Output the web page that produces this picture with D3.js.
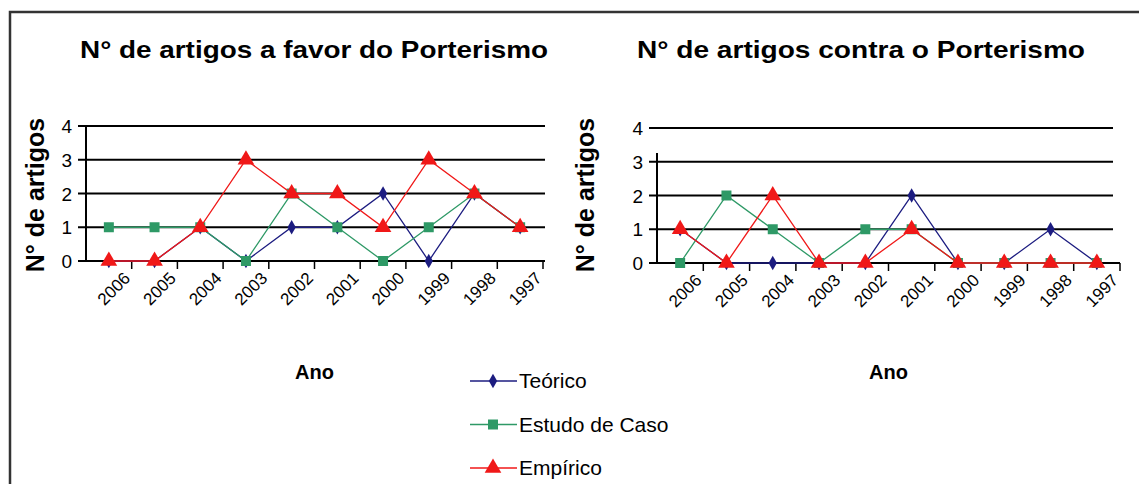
<!DOCTYPE html>
<html>
<head>
<meta charset="utf-8">
<script src="https://cdn.jsdelivr.net/npm/d3@7"></script>
<style>
  body { margin: 0; background: #fff; }
  text { font-family: "Liberation Sans", Arial, sans-serif; }
</style>
</head>
<body>
<script>
// categories (x axis)
var anos = ["2006", "2005", "2004", "2003", "2002", "2001", "2000", "1999", "1998", "1997"];
var yTicks = [0, 1, 2, 3, 4];
var seriesNames = ["Teórico", "Estudo de Caso", "Empírico"];

// a favor
var favorTeorico = [0, 0, 1, 0, 1, 1, 2, 0, 2, 1];
var favorCaso    = [1, 1, 1, 0, 2, 1, 0, 1, 2, 1];
var favorEmpirico = [0, 0, 1, 3, 2, 2, 1, 3, 2, 1];

// contra
var contraTeorico = [1, 0, 0, 0, 0, 2, 0, 0, 1, 0];
var contraCaso    = [0, 2, 1, 0, 1, 1, 0, 0, 0, 0];
var contraEmpirico = [1, 0, 2, 0, 0, 1, 0, 0, 0, 0];

var cores = ["#1c1c80", "#2e9966", "#f01818"];
var simbolos = [d3.symbolDiamond, d3.symbolSquare, d3.symbolTriangle];
var tamanhos = [60, 100, 120];

var w = 1139, h = 484;

var svg = d3.select("body")
    .append("svg")
    .attr("width", w)
    .attr("height", h);

// moldura
svg.append("path")
    .attr("d", "M10," + h + " V12 H" + w)
    .attr("fill", "none")
    .attr("stroke", "#333")
    .attr("stroke-width", 2.5);

function grafico(cfg) {
    var x = d3.scaleBand()
        .domain(anos)
        .range([cfg.x0, cfg.x1]);

    var y = d3.scaleLinear()
        .domain([0, 4])
        .range([cfg.y0, cfg.y4]);

    var g = svg.append("g");

    // titulo
    g.append("text")
        .attr("x", cfg.tx)
        .attr("y", 58)
        .attr("text-anchor", "middle")
        .attr("font-size", 24)
        .attr("font-weight", "bold")
        .attr("textLength", cfg.tLen)
        .attr("lengthAdjust", "spacingAndGlyphs")
        .text(cfg.titulo);

    // linhas de grade
    g.selectAll(".grid")
        .data(yTicks)
        .enter()
        .append("line")
        .attr("x1", cfg.x0 - 8)
        .attr("x2", cfg.gridEnd)
        .attr("y1", function (d) { return y(d); })
        .attr("y2", function (d) { return y(d); })
        .attr("stroke", "#000")
        .attr("stroke-width", 2);

    // eixo y
    g.append("line")
        .attr("x1", cfg.x0).attr("x2", cfg.x0)
        .attr("y1", y(0)).attr("y2", cfg.axisTop)
        .attr("stroke", "#000")
        .attr("stroke-width", 2);

    g.selectAll(".ylab")
        .data(yTicks)
        .enter()
        .append("text")
        .attr("x", cfg.x0 - 14)
        .attr("y", function (d) { return y(d) + 7; })
        .attr("text-anchor", "end")
        .attr("font-size", 19)
        .text(function (d) { return d; });

    // eixo x
    g.append("line")
        .attr("x1", cfg.x0).attr("x2", cfg.x1)
        .attr("y1", y(0)).attr("y2", y(0))
        .attr("stroke", "#000")
        .attr("stroke-width", 2);

    var bordas = anos.map(function (d) { return x(d); }).concat([cfg.x1]);
    g.selectAll(".xtick")
        .data(bordas.slice(1))
        .enter()
        .append("line")
        .attr("x1", function (d) { return d; })
        .attr("x2", function (d) { return d; })
        .attr("y1", y(0))
        .attr("y2", y(0) + 8)
        .attr("stroke", "#000")
        .attr("stroke-width", 1.5);

    g.selectAll(".xlab")
        .data(anos)
        .enter()
        .append("text")
        .attr("transform", function (d) {
            return "translate(" + (x(d) + x.bandwidth() / 2 + 14) + "," + (y(0) + 10) + ") rotate(-45)";
        })
        .attr("text-anchor", "end")
        .attr("font-size", 17)
        .attr("dy", "0.7em")
        .text(function (d) { return d; });

    // titulos dos eixos
    g.append("text")
        .attr("transform", "translate(" + cfg.ytx + ",195) rotate(-90)")
        .attr("text-anchor", "middle")
        .attr("font-size", 25)
        .attr("font-weight", "bold")
        .text("N° de artigos");

    g.append("text")
        .attr("x", (cfg.x0 + cfg.x1) / 2)
        .attr("y", 379)
        .attr("text-anchor", "middle")
        .attr("font-size", 20)
        .attr("font-weight", "bold")
        .text("Ano");

    // series
    var linha = d3.line()
        .x(function (d, i) { return x(anos[i]) + x.bandwidth() / 2; })
        .y(function (d) { return y(d); });

    cfg.series.forEach(function (s, k) {
        g.append("path")
            .datum(s)
            .attr("d", linha)
            .attr("fill", "none")
            .attr("stroke", cores[k])
            .attr("stroke-width", 1.3);

        g.selectAll(".m" + k)
            .data(s)
            .enter()
            .append("path")
            .attr("d", d3.symbol().type(simbolos[k]).size(tamanhos[k]))
            .attr("transform", function (d, i) {
                return "translate(" + (x(anos[i]) + x.bandwidth() / 2) + "," + y(d) + ")";
            })
            .attr("fill", cores[k]);
    });
}

grafico({
    titulo: "N° de artigos a favor do Porterismo",
    tx: 314, tLen: 468,
    x0: 86, x1: 543, gridEnd: 545,
    y0: 261, y4: 126, axisTop: 126,
    ytx: 44,
    series: [favorTeorico, favorCaso, favorEmpirico]
});

grafico({
    titulo: "N° de artigos contra o Porterismo",
    tx: 861, tLen: 448,
    x0: 657, x1: 1120, gridEnd: 1113,
    y0: 263, y4: 128, axisTop: 153,
    ytx: 594,
    series: [contraTeorico, contraCaso, contraEmpirico]
});

// legenda
var leg = svg.append("g");
seriesNames.forEach(function (n, k) {
    var yy = 381 + k * 43.5;
    leg.append("line")
        .attr("x1", 470).attr("x2", 517)
        .attr("y1", yy).attr("y2", yy)
        .attr("stroke", cores[k])
        .attr("stroke-width", 1.5);
    leg.append("path")
        .attr("d", d3.symbol().type(simbolos[k]).size(tamanhos[k]))
        .attr("transform", "translate(493," + yy + ")")
        .attr("fill", cores[k]);
    leg.append("text")
        .attr("x", 519)
        .attr("y", yy + 7)
        .attr("font-size", 21)
        .text(n);
});
</script>
</body>
</html>
